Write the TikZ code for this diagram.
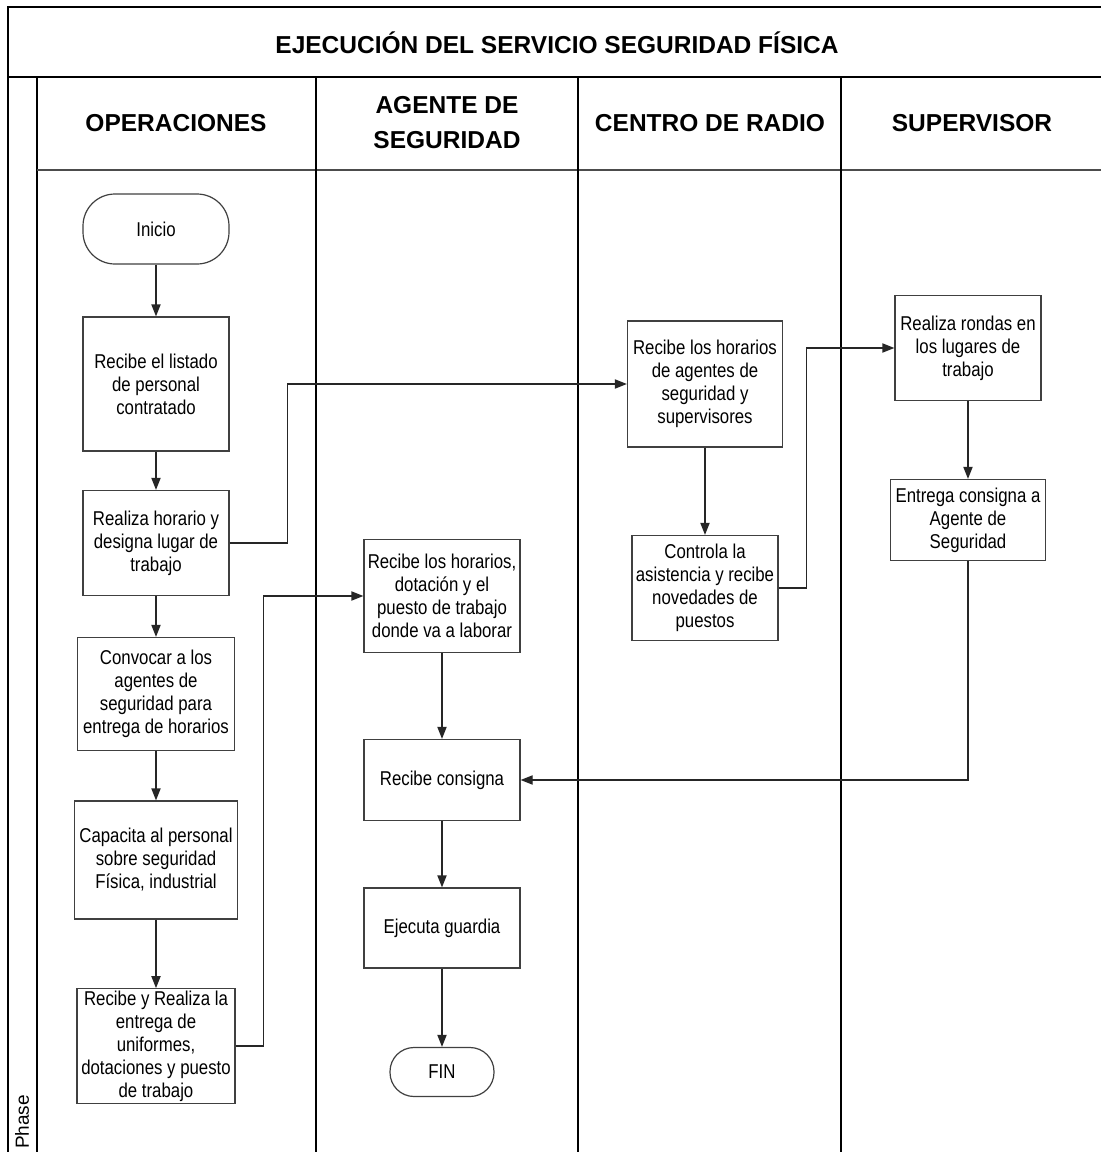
\documentclass[tikz,border=0pt]{standalone}
\usepackage{fontspec}
\setmainfont{Liberation Sans}
\newfontfamily\boxfont{Liberation Sans}[FakeStretch=0.84]
\usepackage{tikz}
\usetikzlibrary{arrows.meta,positioning,calc}

\begin{document}
\begin{tikzpicture}[x=0.5pt, y=-0.5pt,
  lane/.style={line width=1pt, black},
  hdr/.style={font=\bfseries\fontsize{12.25}{17.5}\selectfont, align=center, inner sep=0pt},
  box/.style={rectangle, draw=black!75, line width=0.6pt, fill=white, align=center, inner sep=1pt,
    font=\boxfont\fontsize{10}{11.5}\selectfont},
  term/.style={box, rounded corners=#1},
  arr/.style={-{Triangle[length=6pt, width=4.6pt]}, line width=0.6pt, black!85}
]
  \useasboundingbox (0,0) rectangle (1101,1152);

  \draw[lane] (8,1156) -- (8,7) -- (1106,7);
  \draw[lane] (8,77) -- (1106,77);
  \draw[lane] (37,77) -- (37,1156);
  \draw[lane, black!70] (37,170) -- (1106,170);
  \draw[lane] (316,77) -- (316,1156);
  \draw[lane] (578,77) -- (578,1156);
  \draw[lane] (841,77) -- (841,1156);

  \node[hdr] (title) at (557,43) {EJECUCIÓN DEL SERVICIO SEGURIDAD FÍSICA};
  \node[hdr] (h1) at (176,123) {OPERACIONES};
  \node[hdr] (h2) at (447,123) {AGENTE DE\\SEGURIDAD};
  \node[hdr] (h3) at (710,123) {CENTRO DE RADIO};
  \node[hdr] (h4) at (972,123) {SUPERVISOR};
  \node[rotate=90, inner sep=0pt, font=\fontsize{9.5}{11}\selectfont] (phase) at (22,1122) {Phase};

  \node[term=16pt, minimum width=73pt, minimum height=35pt] (inicio) at (156,229) {Inicio};
  \node[box, minimum width=73pt, minimum height=67pt] (listado) at (156,384) {Recibe el listado\\de personal\\contratado};
  \node[box, minimum width=73pt, minimum height=52.5pt] (horario) at (156,543) {Realiza horario y\\designa lugar de\\trabajo};
  \node[box, minimum width=78.5pt, minimum height=56.5pt] (convocar) at (156,694) {Convocar a los\\agentes de\\seguridad para\\entrega de horarios};
  \node[box, minimum width=81.5pt, minimum height=59pt] (capacita) at (156,860) {Capacita al personal\\sobre seguridad\\Física, industrial};
  \node[box, minimum width=79pt, minimum height=57pt] (entrega) at (156,1046) {Recibe y Realiza la\\entrega de\\uniformes,\\dotaciones y puesto\\de trabajo};

  \node[box, minimum width=78pt, minimum height=56.5pt] (rechor) at (442,596) {Recibe los horarios,\\dotación y el\\puesto de trabajo\\donde va a laborar};
  \node[box, minimum width=78pt, minimum height=40.5pt] (reccon) at (442,780) {Recibe consigna};
  \node[box, minimum width=78pt, minimum height=40pt] (ejecuta) at (442,928) {Ejecuta guardia};
  \node[term=12pt, minimum width=52pt, minimum height=24.5pt] (fin) at (442,1072) {FIN};

  \node[box, minimum width=77.5pt, minimum height=63pt] (recagt) at (705,384) {Recibe los horarios\\de agentes de\\seguridad y\\supervisores};
  \node[box, minimum width=73pt, minimum height=52.5pt] (controla) at (705,588) {Controla la\\asistencia y recibe\\novedades de\\puestos};

  \node[box, minimum width=73pt, minimum height=52.5pt] (rondas) at (968,348) {Realiza rondas en\\los lugares de\\trabajo};
  \node[box, minimum width=77.5pt, minimum height=40.5pt] (entcon) at (968,520) {Entrega consigna a\\Agente de\\Seguridad};

  \draw[arr] (inicio) -- (listado);
  \draw[arr] (listado) -- (horario);
  \draw[arr] (horario) -- (convocar);
  \draw[arr] (convocar) -- (capacita);
  \draw[arr] (capacita) -- (entrega);
  \draw[arr] (horario.east) -- ++(58,0) |- (recagt.west);
  \draw[arr] (entrega.east) -- ++(28,0) |- (rechor.west);
  \draw[arr] (rechor) -- (reccon);
  \draw[arr] (reccon) -- (ejecuta);
  \draw[arr] (ejecuta) -- (fin);
  \draw[arr] (recagt) -- (controla);
  \draw[arr] (controla.east) -- ++(28,0) |- (rondas.west);
  \draw[arr] (rondas) -- (entcon);
  \draw[arr] (entcon.south) |- (reccon.east);
\end{tikzpicture}
\end{document}
